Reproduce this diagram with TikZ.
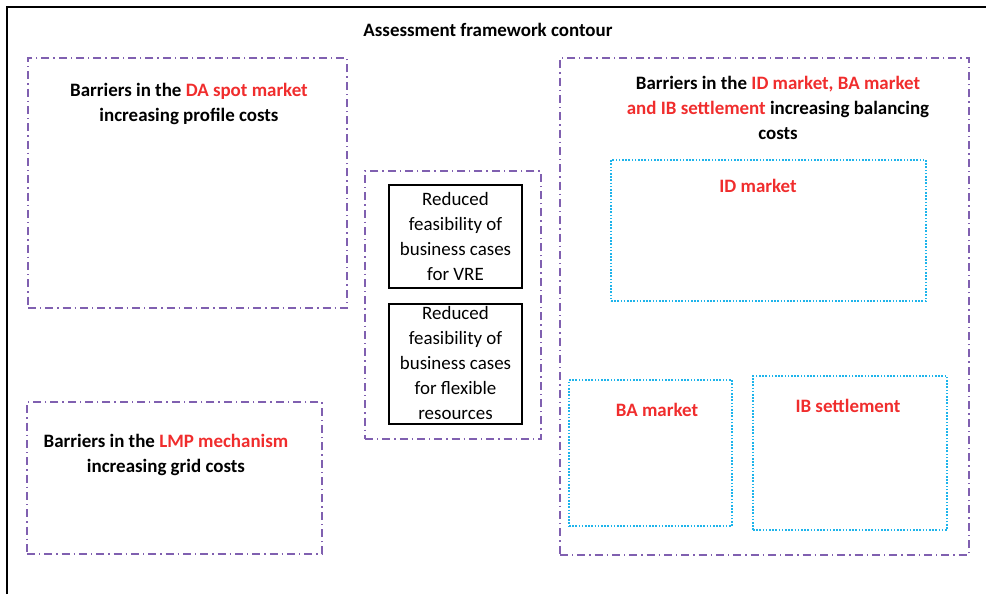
\documentclass[tikz,border=0pt]{standalone}
\usepackage{fontspec}
\setmainfont{Carlito}
\usetikzlibrary{fit}
\definecolor{pur}{RGB}{128,96,176}
\definecolor{cy}{RGB}{30,180,235}
\definecolor{rd}{RGB}{240,45,45}
\tikzset{
  px/.style={x=0.75pt,y=-0.75pt},
  purbox/.style={draw=pur, line width=1.1pt, dash pattern=on 6pt off 3pt on 1pt off 3pt, inner sep=0pt},
  cybox/.style={draw=cy, line width=1pt, dash pattern=on 1.2pt off 1.2pt, inner sep=0pt},
  blkbox/.style={draw=black, line width=0.8pt, inner sep=0pt},
  btxt/.style={font=\fontsize{14.2}{18.75}\selectfont\bfseries, align=center, inner sep=0pt},
  rtxt/.style={font=\fontsize{14.2}{18.75}\selectfont, align=center, inner sep=0pt},
}
\begin{document}
\begin{tikzpicture}[px]
\useasboundingbox (0,0) rectangle (986,594);
\coordinate (fa) at (7,594);
\coordinate (fb) at (7,7);
\coordinate (fc) at (986,7);
\draw[line width=1.5pt] (fa) -- (fb) -- (fc);
\node[btxt] (title) at (488,30) {Assessment framework contour};
% DA box
\node[purbox, fit={(28,58) (347,308)}] (da) {};
\node[btxt] (datxt) at (189,104) {Barriers in the \textcolor{rd}{DA spot market}\\increasing profile costs};
% LMP box
\node[purbox, fit={(27,402) (322,554)}] (lmp) {};
\node[btxt] (lmptxt) at (166,455) {Barriers in the \textcolor{rd}{LMP mechanism}\\increasing grid costs};
% middle box
\node[purbox, fit={(365,171) (541,439)}] (mid) {};
\node[blkbox, fit={(389,185) (522,288)}] (vre) {};
\node[rtxt] (vretxt) at (455.5,236) {Reduced\\feasibility of\\business cases\\for VRE};
\node[blkbox, fit={(389,304) (522,424)}] (flex) {};
\node[rtxt] (flextxt) at (455.5,363) {Reduced\\feasibility of\\business cases\\for flexible\\resources};
% right box
\node[purbox, fit={(560,58) (969,555)}] (rb) {};
\node[btxt] (rbtxt) at (778,108) {Barriers in the \textcolor{rd}{ID market, BA market}\\\textcolor{rd}{and IB settlement} increasing balancing\\costs};
\node[cybox, fit={(611,160) (926,301)}] (id) {};
\node[btxt, text=rd] (idtxt) at (758,186) {ID market};
\node[cybox, fit={(569,380) (732,526)}] (ba) {};
\node[btxt, text=rd] (batxt) at (657,410) {BA market};
\node[cybox, fit={(753,376) (947,530)}] (ib) {};
\node[btxt, text=rd] (ibtxt) at (848,406) {IB settlement};
\end{tikzpicture}
\end{document}
